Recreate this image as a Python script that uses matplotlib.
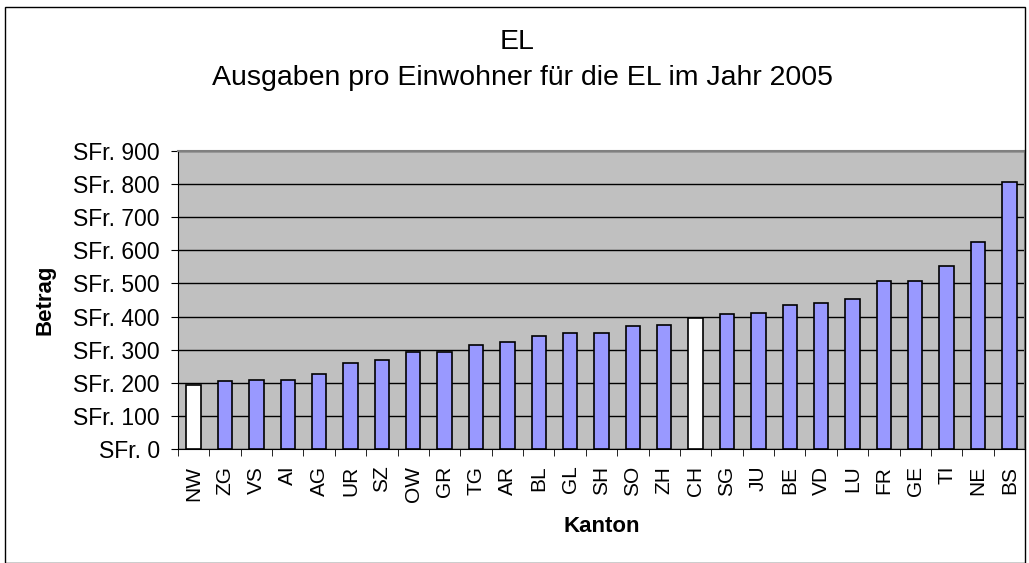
import matplotlib.pyplot as plt
from matplotlib.patches import Rectangle

plt.rcParams['font.family'] = ['Liberation Sans', 'DejaVu Sans']

kantone = ['NW', 'ZG', 'VS', 'AI', 'AG', 'UR', 'SZ', 'OW', 'GR', 'TG', 'AR', 'BL', 'GL', 'SH',
           'SO', 'ZH', 'CH', 'SG', 'JU', 'BE', 'VD', 'LU', 'FR', 'GE', 'TI', 'NE', 'BS']
betrag = [194, 204, 209, 209, 227, 261, 269, 293, 293, 313, 322, 340, 351, 351,
          370, 375, 397, 408, 412, 436, 440, 454, 506, 506, 554, 625, 806]
hervorgehoben = ['NW', 'CH']
yticks = list(range(0, 1000, 100))

fig = plt.figure(figsize=(10.29, 5.63), dpi=100)
ax = fig.add_axes([178 / 1029, 1 - 449 / 563, (1025 - 178) / 1029, (449 - 151) / 563])

farben = ['white' if k in hervorgehoben else '#9999FF' for k in kantone]
ax.bar(range(len(kantone)), betrag, width=0.46, color=farben, edgecolor='black', linewidth=1.2, zorder=3)

ax.set_facecolor('#C0C0C0')
ax.set_xlim(-0.5, len(kantone) - 0.5)
ax.set_ylim(0, 900)
ax.set_yticks(yticks)
ax.set_yticklabels(['SFr. %d' % v for v in yticks], fontsize=16.5)
ax.yaxis.grid(True, color='black', linewidth=1.0, zorder=0)
ax.set_axisbelow(True)
ax.set_xticks(range(len(kantone)))
ax.set_xticklabels(kantone, rotation=90, fontsize=15)
ax.set_xticks([i - 0.5 for i in range(len(kantone) + 1)], minor=True)
ax.tick_params(axis='x', which='major', length=0, pad=12)
ax.tick_params(axis='x', which='minor', length=5, color='black')
ax.tick_params(axis='y', length=5, color='black', pad=8)

for s in ['top', 'right']:
    ax.spines[s].set_color('#808080')
    ax.spines[s].set_linewidth(1.5)
for s in ['left', 'bottom']:
    ax.spines[s].set_color('black')

fig.text(602 / 1029, 1 - 527 / 563, 'Kanton', ha='center', va='center', fontsize=16, fontweight='bold')
fig.text(45 / 1029, 1 - 300 / 563, 'Betrag', ha='center', va='center', rotation=90,
         fontsize=16, fontweight='bold')

fig.text(517 / 1029, 1 - 42 / 563, 'EL', ha='center', va='center', fontsize=20.5)
fig.text(523 / 1029, 1 - 78 / 563, 'Ausgaben pro Einwohner für die EL im Jahr 2005',
         ha='center', va='center', fontsize=20.5)

fig.patches.append(Rectangle((5 / 1029, 0), 1020 / 1029, 1 - 7 / 563, transform=fig.transFigure,
                             fill=False, edgecolor='black', linewidth=1.0))

fig.savefig('out.png', dpi=100)
